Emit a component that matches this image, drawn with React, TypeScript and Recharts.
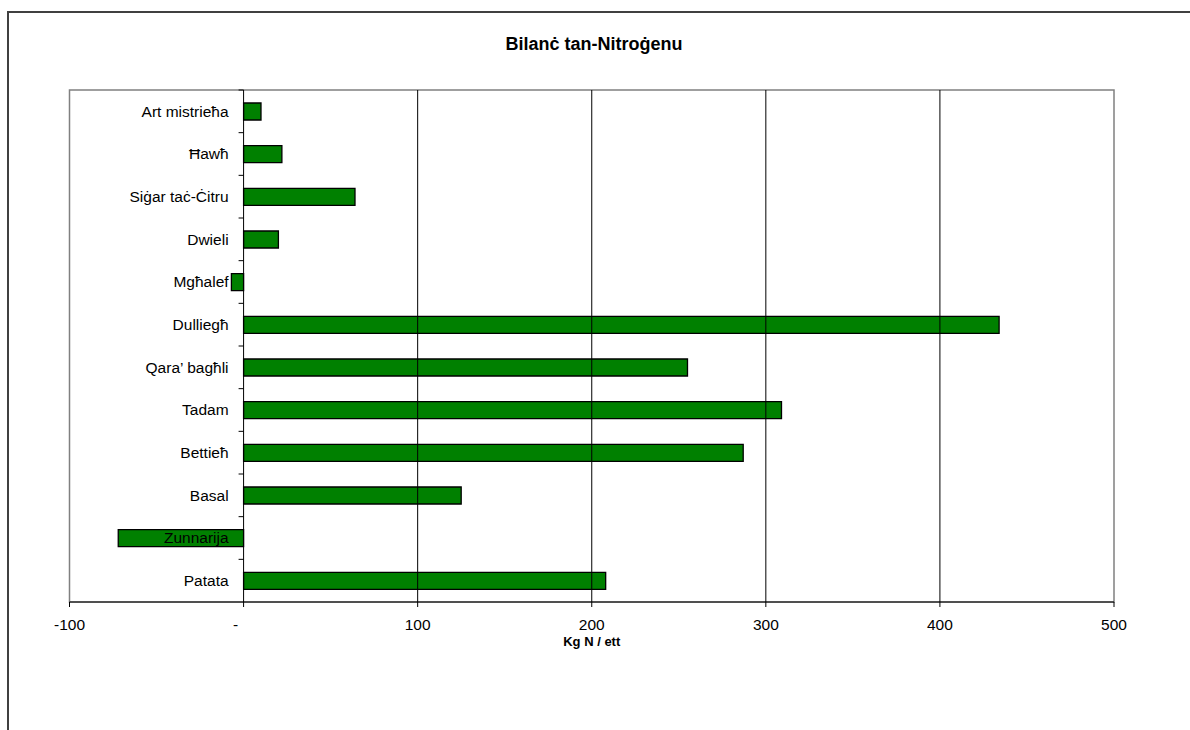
import React from "react"
import {
  BarChart,
  Bar,
  XAxis,
  YAxis,
  ReferenceLine,
  ReferenceArea,
} from "recharts"

const categories = [
  "Art mistrieħa",
  "Ħawħ",
  "Siġar taċ-Ċitru",
  "Dwieli",
  "Mgħalef",
  "Dulliegħ",
  "Qara’ bagħli",
  "Tadam",
  "Bettieħ",
  "Basal",
  "Zunnarija",
  "Patata",
]
const nitrogen = [10, 22, 64, 20, -7, 434, 255, 309, 287, 125, -72, 208]
const xTicks = [-100, 0, 100, 200, 300, 400, 500]
const gridLines = [100, 200, 300, 400]

const data = categories.map((name, i) => ({ name, value: nitrogen[i] }))

const FONT = "'Liberation Sans', Arial, sans-serif"
const W = 1190
const H = 730
const Y_AXIS_W = 2
const M = { top: 90, right: 76, bottom: 78, left: 69.5 - Y_AXIS_W }
const X_AXIS_H = 50
const X_MIN = -100
const X_MAX = 500
const PLOT_LEFT = M.left + Y_AXIS_W
const PLOT_W = W - PLOT_LEFT - M.right
const PLOT_H = H - M.top - M.bottom - X_AXIS_H
const BAND = PLOT_H / categories.length
const ZERO_X = PLOT_LEFT + ((0 - X_MIN) / (X_MAX - X_MIN)) * PLOT_W

function CategoryTick(props: any) {
  const { y, payload } = props
  return (
    <g>
      <line x1={ZERO_X - 5} x2={ZERO_X} y1={y - BAND / 2} y2={y - BAND / 2} stroke="#000" />
      <text
        x={ZERO_X - 15}
        y={y}
        dy="0.35em"
        textAnchor="end"
        fontSize={15.5}
        fontFamily={FONT}
        fill="#000"
      >
        {payload.value}
      </text>
    </g>
  )
}

function ValueTick(props: any) {
  const { x, y, payload } = props
  const v = payload.value
  return (
    <text
      x={v === 0 ? x - 8 : x}
      y={y}
      dy="0.71em"
      textAnchor="middle"
      fontSize={15.5}
      fontFamily={FONT}
      fill="#000"
    >
      {v === 0 ? "-" : v}
    </text>
  )
}

export default function App() {
  return (
    <div style={{ position: "absolute", left: 0, top: 0, width: W, height: H, overflow: "hidden", fontFamily: FONT }}>
      <div
        style={{
          position: "absolute",
          left: 7,
          top: 11,
          width: W,
          height: H,
          borderLeft: "2px solid #404040",
          borderTop: "2px solid #404040",
        }}
      />
      <div
        style={{
          position: "absolute",
          left: 0,
          width: 1188,
          top: 34,
          textAlign: "center",
          fontWeight: "bold",
          fontSize: 18,
          color: "#000",
        }}
      >
        Bilanċ tan-Nitroġenu
      </div>
      <div style={{ position: "absolute", left: 0, top: 0 }}>
        <BarChart width={W} height={H} data={data} layout="vertical" margin={M} barSize={17}>
          <ReferenceArea x1={X_MIN} x2={X_MAX} fill="none" stroke="#808080" strokeWidth={1.5} />
          {gridLines.map((g) => (
            <ReferenceLine key={g} x={g} stroke="#000" strokeWidth={1} />
          ))}
          <XAxis
            type="number"
            domain={[X_MIN, X_MAX]}
            ticks={xTicks}
            height={X_AXIS_H}
            stroke="#000"
            tickSize={5}
            tickMargin={12}
            tick={<ValueTick />}
            label={{
              value: "Kg N / ett",
              position: "insideTop",
              offset: 35,
              fontSize: 13,
              fontWeight: "bold",
              fill: "#000",
              fontFamily: FONT,
            }}
          />
          <YAxis
            type="category"
            dataKey="name"
            width={Y_AXIS_W}
            axisLine={false}
            tickLine={false}
            tick={<CategoryTick />}
            interval={0}
          />
          <Bar dataKey="value" fill="#008000" stroke="#000" strokeWidth={1.3} isAnimationActive={false} />
          <ReferenceLine x={0} stroke="#000" strokeWidth={1} />
        </BarChart>
      </div>
    </div>
  )
}
